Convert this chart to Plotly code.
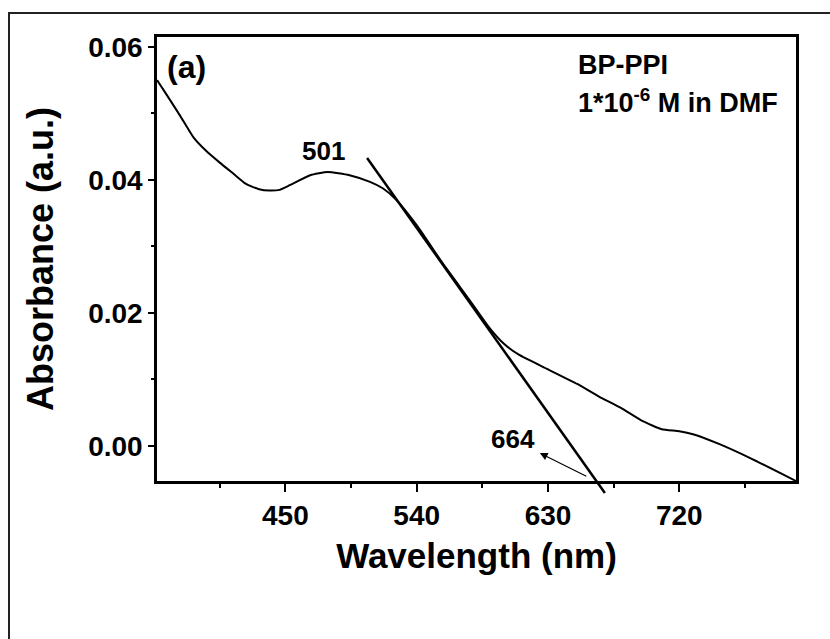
import plotly.graph_objects as go

# Absorption spectrum
wavelength = [362, 363, 371, 378, 387, 396, 405, 414, 423, 432, 439, 446, 453, 467,
              479, 494, 508, 517, 526, 540, 558, 576, 590, 600, 610, 630, 650, 665,
              680, 695, 708, 720, 730, 748, 770, 800]
absorbance = [0.0550, 0.0547, 0.0520, 0.0496, 0.0464, 0.0443, 0.0426, 0.0410, 0.0394,
              0.0386, 0.0384, 0.0385, 0.0392, 0.0407, 0.0412, 0.0407, 0.0397, 0.0387,
              0.0370, 0.0332, 0.0274, 0.0220, 0.0177, 0.0153, 0.0137, 0.0115, 0.0093,
              0.0074, 0.0057, 0.0037, 0.0025, 0.0022, 0.0017, 0.0002, -0.0020, -0.0053]

# Tangent line endpoints (nm, abs)
tangent_x = [506, 669]
tangent_y = [0.0433, -0.0071]

# Arrow (tail -> head)
arrow_tail = (657.3, -0.0047)
arrow_head = (624.4, -0.0011)

x_range = [362, 800]
y_range = [-0.0053, 0.0615]
x_ticks = [450, 540, 630, 720]
x_minor = [405, 495, 585, 675, 765]
y_ticks = [0.00, 0.02, 0.04, 0.06]
y_ticktext = ["0.00", "0.02", "0.04", "0.06"]
y_minor = [0.01, 0.03, 0.05]

FONT = "Liberation Sans, Arial, sans-serif"

W, H = 830, 639
ML, MR, MT, MB = 157, 34, 37, 158


def to_paper_x(v):
    return (v - x_range[0]) / (x_range[1] - x_range[0])


def to_paper_y(v):
    return (v - y_range[0]) / (y_range[1] - y_range[0])


fig = go.Figure()
fig.add_trace(go.Scatter(x=wavelength, y=absorbance, mode="lines",
                         line=dict(color="black", width=2, shape="spline", smoothing=0.5),
                         showlegend=False, hoverinfo="skip"))

# tangent line (in paper coords so it may extend past the axis)
fig.add_shape(type="line", xref="paper", yref="paper",
              x0=to_paper_x(tangent_x[0]), y0=to_paper_y(tangent_y[0]),
              x1=to_paper_x(tangent_x[1]), y1=to_paper_y(tangent_y[1]),
              line=dict(color="black", width=2.5))

# outer frame: only left and top edges fall inside the picture
pw, ph = W - ML - MR, H - MT - MB
fig.add_shape(type="line", xref="paper", yref="paper",
              x0=(9 - ML) / pw, x1=(9 - ML) / pw,
              y0=(H - MB - 700) / ph, y1=(H - MB - 13) / ph,
              line=dict(color="#222", width=2), layer="below")
fig.add_shape(type="line", xref="paper", yref="paper",
              x0=(8 - ML) / pw, x1=(900 - ML) / pw,
              y0=(H - MB - 13) / ph, y1=(H - MB - 13) / ph,
              line=dict(color="#222", width=2), layer="below")

fig.add_annotation(x=arrow_head[0], y=arrow_head[1], ax=arrow_tail[0], ay=arrow_tail[1],
                   xref="x", yref="y", axref="x", ayref="y", text="",
                   showarrow=True, arrowhead=2, arrowsize=1.3, arrowwidth=1.2,
                   arrowcolor="black")

fig.add_annotation(x=476.2, y=0.0443, xref="x", yref="y", text="501", showarrow=False,
                   font=dict(family=FONT, size=26, color="black", weight="bold"))
fig.add_annotation(x=605.9, y=0.0010, xref="x", yref="y", text="664", showarrow=False,
                   font=dict(family=FONT, size=26, color="black", weight="bold"))

fig.add_annotation(x=(165 - ML) / pw, y=(H - MB - 67) / ph, xref="paper", yref="paper",
                   text="(a)", showarrow=False, xanchor="left", yanchor="middle",
                   font=dict(family=FONT, size=32, color="black", weight="bold"))
fig.add_annotation(x=(576 - ML) / pw, y=(H - MB - 65) / ph, xref="paper", yref="paper",
                   text="BP-PPI", showarrow=False, xanchor="left", yanchor="middle",
                   font=dict(family=FONT, size=27, color="black", weight="bold"))
fig.add_annotation(x=(576 - ML) / pw, y=(H - MB - 101) / ph, xref="paper", yref="paper",
                   text="1*10<sup>-6</sup> M in DMF", showarrow=False, xanchor="left",
                   yanchor="middle",
                   font=dict(family=FONT, size=27, color="black", weight="bold"))

axis_common = dict(showgrid=False, zeroline=False, showline=True, linecolor="black",
                   linewidth=2.5, mirror=True, ticks="outside", tickwidth=2,
                   tickcolor="black",
                   tickfont=dict(family=FONT, size=28, color="black", weight="bold"))

fig.update_xaxes(range=x_range, tickvals=x_ticks, ticklen=8,
                 minor=dict(tickvals=x_minor, ticklen=4, tickwidth=2,
                            ticks="outside", tickcolor="black"),
                 title=dict(text="Wavelength (nm)", standoff=14,
                            font=dict(family=FONT, size=35, color="black", weight="bold")),
                 **axis_common)
fig.update_yaxes(range=y_range, tickvals=y_ticks, ticktext=y_ticktext,
                 ticklen=6,
                 minor=dict(tickvals=y_minor, ticklen=3, tickwidth=2,
                            ticks="outside", tickcolor="black"),
                 title=dict(text="Absorbance (a.u.)", standoff=24,
                            font=dict(family=FONT, size=36, color="black", weight="bold")),
                 **axis_common)

fig.update_layout(width=W, height=H, margin=dict(l=ML, r=MR, t=MT, b=MB),
                  paper_bgcolor="white", plot_bgcolor="white")

fig.write_html("out.html")
